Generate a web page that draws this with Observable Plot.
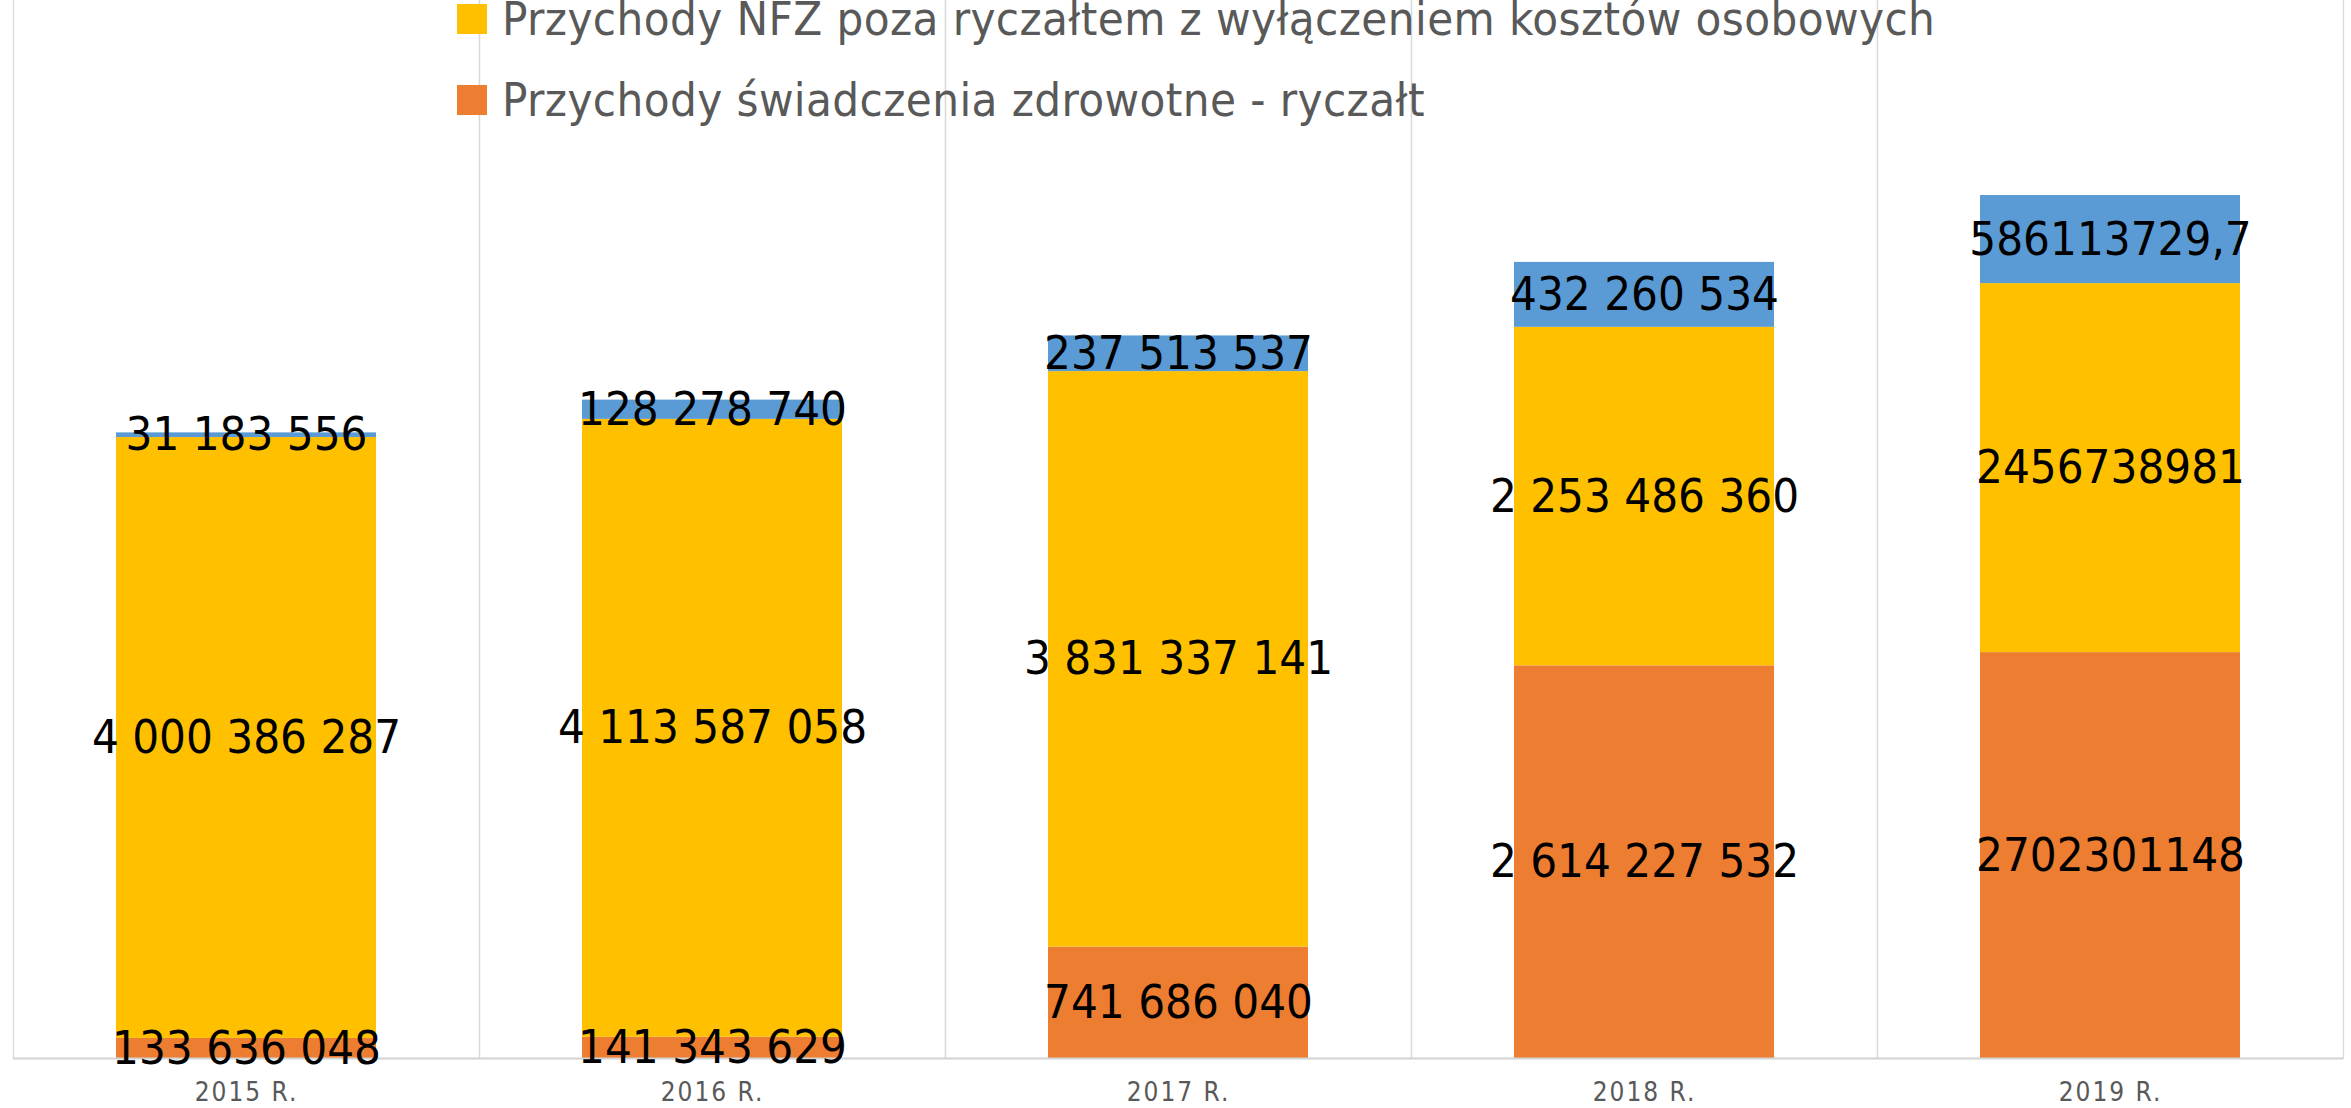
<!DOCTYPE html>
<html>
<head>
<meta charset="utf-8">
<script src="https://cdn.jsdelivr.net/npm/d3@7"></script>
<script src="https://cdn.jsdelivr.net/npm/@observablehq/plot@0.6"></script>
<style>
  html, body { margin: 0; padding: 0; background: #fff; overflow: hidden; }
  #wrap { position: relative; width: 2351px; height: 1108px; overflow: hidden; }
  #chart svg { display: block; margin-top: -2px; }
  #legend { position: absolute; left: 457px; top: -22px; font-family: "DejaVu Sans Condensed", "DejaVu Sans", sans-serif; font-stretch: condensed; color: #595959; }
  .row { display: flex; align-items: center; height: 81px; }
  .sw { width: 30px; height: 30px; margin-right: 15px; flex: none; }
  .lbl { font-size: 47px; letter-spacing: 0.4px; line-height: 1; white-space: nowrap; }
  g[aria-label^="fx-axis"] text { letter-spacing: 2px; }
</style>
</head>
<body>
<div id="wrap">
  <div id="chart"></div>
  <div id="legend"></div>
</div>
<script>
const years = ["2015 R.", "2016 R.", "2017 R.", "2018 R.", "2019 R."];
const seriesNames = [
  "Przychody świadczenia zdrowotne - ryczałt",
  "Przychody NFZ poza ryczałtem z wyłączeniem kosztów osobowych",
  "Koszty osobowe"
];
const seriesColors = ["#ED7D31", "#FFC000", "#5B9BD5"];
const ryczalt = [133636048, 141343629, 741686040, 2614227532, 2702301148];
const pozaRyczaltem = [4000386287, 4113587058, 3831337141, 2253486360, 2456738981];
const kosztyOsobowe = [31183556, 128278740, 237513537, 432260534, 586113729.7];
const rawLabelYears = ["2019 R."]; // labels shown without grouping in the source
const legendShown = [1, 0]; // visible legend rows (top entry is cropped out)

const seriesValues = [ryczalt, pozaRyczaltem, kosztyOsobowe];

function fmt(v, year) {
  if (rawLabelYears.includes(year)) return String(v).replace(".", ",");
  return String(Math.round(v)).replace(/\B(?=(\d{3})+(?!\d))/g, " ");
}

const data = [];
years.forEach((year, i) => {
  seriesNames.forEach((name, s) => {
    const v = seriesValues[s][i];
    data.push({year, series: name, value: v, label: fmt(v, year)});
  });
});

const font = '"DejaVu Sans Condensed", "DejaVu Sans", sans-serif';

const chart = Plot.plot({
  width: 2351,
  height: 1110,
  marginTop: 0,
  marginLeft: 12,
  marginRight: 8,
  marginBottom: 50,
  style: {fontFamily: font, fontSize: "26px", color: "#595959", background: "#fff", fontStretch: "condensed"},
  fx: {domain: years, padding: 0, paddingInner: 0, paddingOuter: 0, label: null, tickSize: 0, tickPadding: 24, axis: "bottom"},
  y: {domain: [0, 7.057e9], axis: null},
  color: {domain: seriesNames, range: seriesColors},
  marks: [
    Plot.frame({stroke: "#d9d9d9", strokeWidth: 1.3}),
    Plot.barY(data, Plot.stackY({fx: "year", y: "value", z: "series", fill: "series", insetLeft: 103, insetRight: 103})),
    Plot.ruleY([0], {stroke: "#d4d4d4", strokeWidth: 2}),
    Plot.text(data, Plot.stackY({fx: "year", y: "value", z: "series", text: "label", fill: "#000", fontSize: 47, fontFamily: font}))
  ]
});
document.getElementById("chart").appendChild(chart);

const legend = document.getElementById("legend");
legendShown.forEach(s => {
  const row = document.createElement("div");
  row.className = "row";
  const sw = document.createElement("div");
  sw.className = "sw";
  sw.style.background = seriesColors[s];
  const lbl = document.createElement("div");
  lbl.className = "lbl";
  lbl.textContent = seriesNames[s];
  row.appendChild(sw);
  row.appendChild(lbl);
  legend.appendChild(row);
});
</script>
</body>
</html>
